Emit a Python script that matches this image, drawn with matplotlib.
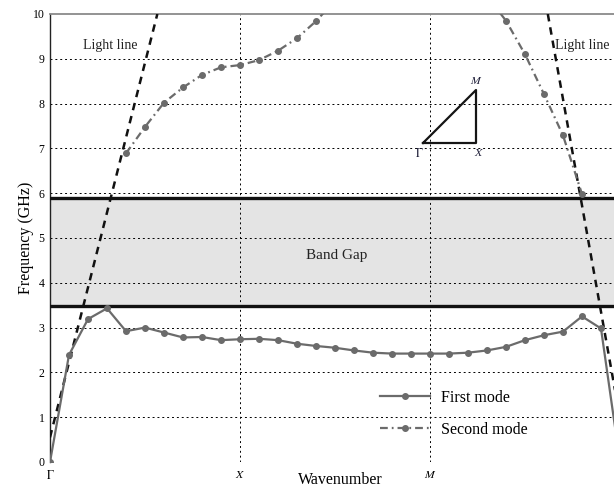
import matplotlib.pyplot as plt
import numpy as np

plt.rcParams['font.family'] = ['Liberation Serif', 'DejaVu Serif']
plt.rcParams['mathtext.fontset'] = 'stix'

# k-path index: Gamma(0) -> X(10) -> M(20) -> Gamma(30)
k_first = np.arange(31)
first_mode = [0.0, 2.39, 3.19, 3.43, 2.92, 3.00, 2.89, 2.78, 2.79, 2.72,
              2.74, 2.75, 2.72, 2.64, 2.59, 2.55, 2.49, 2.44, 2.42, 2.42,
              2.42, 2.42, 2.44, 2.49, 2.57, 2.72, 2.83, 2.91, 3.25, 2.98, 0.0]

k_second = np.arange(4, 29)
second_mode = [6.89, 7.48, 8.02, 8.36, 8.64, 8.81, 8.86, 8.97, 9.18, 9.46,
               9.84, 10.30, 10.70, 11.00, 11.20, 11.30, 11.20, 11.00, 10.80, 10.40,
               9.85, 9.10, 8.21, 7.29, 5.98]

# light lines on either side of the zone
light_left_k = [0.0, 5.65]
light_left_f = [0.55, 10.0]
light_right_k = [26.2, 30.0]
light_right_f = [10.0, 0.98]

gap_low, gap_high = 3.48, 5.90

tick_pos = [0, 10, 20]
tick_lab = [r'$\Gamma$', r'$X$', r'$M$']

gray = '#6b6b6b'

fig = plt.figure(figsize=(6.14, 4.88), dpi=100)
ax = fig.add_axes([50/614, 26/488, 570/614, 448/488])
ax.set_xlim(0, 30)
ax.set_ylim(0, 10)

# band gap
ax.axhspan(gap_low, gap_high, color='#e4e4e4', zorder=0, lw=0)
ax.axhline(gap_low, color='#111111', lw=2.4, zorder=3)
ax.axhline(gap_high, color='#111111', lw=2.4, zorder=3)

# grid
for y in range(1, 10):
    ax.axhline(y, color='black', lw=0.7, ls=(0, (2, 3)), zorder=1)
for x in tick_pos[1:]:
    ax.axvline(x, color='black', lw=0.7, ls=(0, (2, 3)), zorder=1)

ax.plot(light_left_k, light_left_f, color='#111111', lw=1.8, ls=(0, (3, 2.4)), zorder=4)
ax.plot(light_right_k, light_right_f, color='#111111', lw=1.8, ls=(0, (3, 2.4)), zorder=4)

ax.plot(k_first, first_mode, color=gray, lw=1.6, marker='o', ms=4,
        label='First mode', zorder=5)
ax.plot(k_second, second_mode, color=gray, lw=1.6, marker='o', ms=4,
        ls=(0, (3.5, 1.8, 0.8, 1.8)), label='Second mode', zorder=5)

ax.set_xticks(tick_pos)
ax.set_xticklabels(tick_lab, fontsize=9.5)
ax.set_yticks(range(0, 11))
ax.tick_params(length=0, labelsize=8.5, pad=4)
ax.tick_params(axis='x', pad=5)

for s in ['bottom', 'right']:
    ax.spines[s].set_visible(False)
ax.spines['top'].set_color('#8a8a8a')
ax.spines['top'].set_linewidth(1.3)
ax.spines['left'].set_color('#222222')
ax.spines['left'].set_linewidth(1.0)

ax.set_xlabel('Wavenumber', fontsize=11.5)
ax.xaxis.set_label_coords(290/570, -0.023)
ax.set_ylabel('Frequency (GHz)', fontsize=11.5, labelpad=-1)

ax.text(1.75, 9.3, 'Light line', fontsize=10, color='#222222', va='center')
ax.text(26.6, 9.3, 'Light line', fontsize=10, color='#222222', va='center')
ax.text(15.1, 4.6, 'Band Gap', fontsize=11, color='#222222', ha='center', va='center')

ax.legend(loc='upper left', bbox_to_anchor=(380/614, 1 - 390/488),
          bbox_transform=fig.transFigure, frameon=False, fontsize=11.5,
          handlelength=3.1, handletextpad=0.7, labelspacing=1.0,
          borderpad=0, borderaxespad=0)

# irreducible Brillouin zone sketch
ins = fig.add_axes([423/614, (488-143)/488, 53/614, 53/488])
ins.set_xlim(0, 1)
ins.set_ylim(0, 1)
ins.axis('off')
ins.plot([0, 1, 1, 0], [0, 0, 1, 0], color='#151515', lw=1.6, clip_on=False)
lab_c = '#20203a'
ins.text(-0.06, -0.08, r'$\Gamma$', fontsize=8.5, ha='center', va='top', color=lab_c)
ins.text(1.05, -0.08, r'$X$', fontsize=8.5, ha='center', va='top', color=lab_c)
ins.text(1.0, 1.06, r'$M$', fontsize=8.5, ha='center', va='bottom', color=lab_c)

plt.savefig('out.png', dpi=100)
plt.close()
